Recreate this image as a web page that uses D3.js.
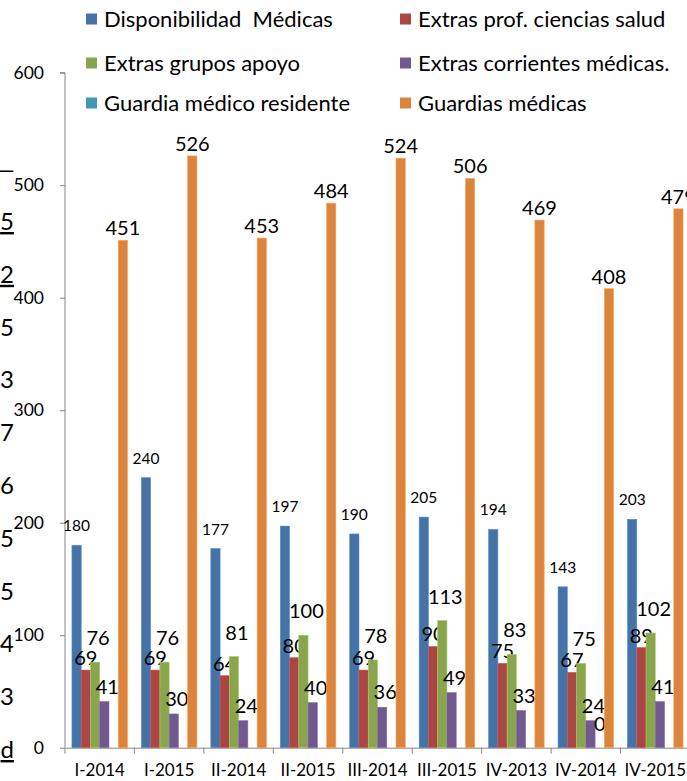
<!DOCTYPE html>
<html>
<head>
<meta charset="utf-8">
<script src="https://cdn.jsdelivr.net/npm/d3@7"></script>
<style>
  body { margin: 0; background: #fff; }
  svg { display: block; font-family: Lato, "Open Sans", sans-serif; }
</style>
</head>
<body>
<div id="chart"></div>
<script>
// datos
const categories = ['I-2014', 'I-2015', 'II-2014', 'II-2015', 'III-2014', 'III-2015', 'IV-2013', 'IV-2014', 'IV-2015'];
const seriesNames = ['Disponibilidad  Médicas', 'Extras prof. ciencias salud', 'Extras grupos apoyo',
    'Extras corrientes médicas.', 'Guardia médico residente', 'Guardias médicas'];
const disponibilidad = [180, 240, 177, 197, 190, 205, 194, 143, 203];
const extrasProf = [69, 69, 64, 80, 69, 90, 75, 67, 89];
const extrasApoyo = [76, 76, 81, 100, 78, 113, 83, 75, 102];
const extrasCorrientes = [41, 30, 24, 40, 36, 49, 33, 24, 41];
const guardiaResidente = [null, null, null, null, null, null, null, 0, null];
const guardias = [451, 526, 453, 484, 524, 506, 469, 408, 479];
const yTicks = [0, 100, 200, 300, 400, 500, 600];
// restos de texto recortados en el borde izquierdo
const edgeGlyphs = ['‾', '5', '2', '5', '3', '7', '6', '5', '5', '4', '3', 'd'];

const seriesValues = [disponibilidad, extrasProf, extrasApoyo, extrasCorrientes, guardiaResidente, guardias];
const colors = ['#4572A7', '#AA4643', '#89A54E', '#71588F', '#4198AF', '#DB843D'];
// desplazamiento de etiquetas por serie
const labelStyle = [
    { size: 15.5, dx: 0, dy: -14 },
    { size: 20, dx: 0, dy: -5 },
    { size: 20, dx: 3, dy: -17 },
    { size: 20, dx: 3, dy: -8 },
    { size: 20, dx: 0, dy: -17 },
    { size: 20, dx: 0, dy: -5 }
];

const width = 687, height = 781;
const svg = d3.select('#chart').append('svg')
    .attr('width', width)
    .attr('height', height);

const x0 = d3.scaleBand().domain(categories).range([65, 690]).padding(0);
const x1 = d3.scaleBand().domain(d3.range(seriesNames.length))
    .range([0, x0.bandwidth()]).paddingInner(0).paddingOuter(0.75);
const y = d3.scaleLinear().domain([0, 600]).range([747.7, 72.7]);

// ejes
const axisColor = '#868686';
const yAxis = svg.append('g')
    .attr('transform', 'translate(65,0)')
    .call(d3.axisLeft(y).tickValues(yTicks).tickSize(5).tickPadding(16).tickFormat(d3.format('d')));
yAxis.select('.domain').attr('stroke', axisColor).attr('d', `M-5,${y(600)}H0V${y(0)}`);
yAxis.selectAll('.tick line').attr('stroke', axisColor);
yAxis.selectAll('.tick text').attr('fill', '#000').style('font-size', '17.5px').style('font-family', 'Lato');

const xAxis = svg.append('g')
    .attr('transform', `translate(0,${y(0)})`)
    .call(d3.axisBottom(x0).tickSize(0).tickPadding(16));
xAxis.select('.domain').attr('stroke', axisColor);
xAxis.selectAll('.tick text').attr('fill', '#000').style('font-size', '17px').style('font-family', 'Lato');
xAxis.selectAll('.sep')
    .data(categories.concat(['end']))
    .enter()
    .append('line')
    .attr('class', 'sep')
    .attr('x1', (d, i) => x0.range()[0] + i * x0.step())
    .attr('x2', (d, i) => x0.range()[0] + i * x0.step())
    .attr('y1', 0)
    .attr('y2', 6)
    .attr('stroke', axisColor);

// barras
const groups = svg.append('g')
    .selectAll('g')
    .data(categories)
    .enter()
    .append('g')
    .attr('transform', d => `translate(${x0(d)},0)`);

const cells = groups.selectAll('g')
    .data((c, ci) => seriesValues.map((vals, si) => ({ si: si, v: vals[ci] })))
    .enter()
    .append('g');

cells.filter(d => d.v != null && d.v > 0)
    .append('rect')
    .attr('x', d => x1(d.si))
    .attr('width', x1.bandwidth())
    .attr('y', d => y(d.v))
    .attr('height', d => y(0) - y(d.v))
    .attr('fill', d => colors[d.si])
    .attr('stroke', d => d3.color(colors[d.si]).brighter(0.6))
    .attr('stroke-width', 0.6);

cells.filter(d => d.v != null)
    .append('text')
    .attr('x', d => x1(d.si) + x1.bandwidth() / 2 + labelStyle[d.si].dx)
    .attr('y', d => y(d.v) + labelStyle[d.si].dy)
    .attr('text-anchor', 'middle')
    .style('font-size', d => labelStyle[d.si].size + 'px')
    .attr('fill', '#000')
    .text(d => d.v);

// leyenda
const legend = svg.append('g')
    .selectAll('g')
    .data(seriesNames)
    .enter()
    .append('g')
    .attr('transform', (d, i) => `translate(${i % 2 === 0 ? 86 : 400},${[19, 63, 103][Math.floor(i / 2)]})`);

legend.append('rect')
    .attr('x', 0)
    .attr('y', -5.5)
    .attr('width', 11)
    .attr('height', 11)
    .attr('fill', (d, i) => colors[i]);

legend.append('text')
    .attr('x', 18)
    .attr('dy', '0.35em')
    .style('font-size', '22px')
    .style('white-space', 'pre')
    .attr('fill', '#000')
    .text(d => d);

// glifos cortados del borde
svg.append('g')
    .selectAll('text')
    .data(edgeGlyphs)
    .enter()
    .append('text')
    .attr('x', 14)
    .attr('y', (d, i) => i === 0 ? 190 : 222 + (i - 1) * 52.8 + 8)
    .attr('text-anchor', 'end')
    .style('font-size', '24px')
    .style('text-decoration', (d, i) => [1, 2, 11].includes(i) ? 'underline' : null)
    .attr('fill', '#000')
    .text(d => d);
</script>
</body>
</html>
